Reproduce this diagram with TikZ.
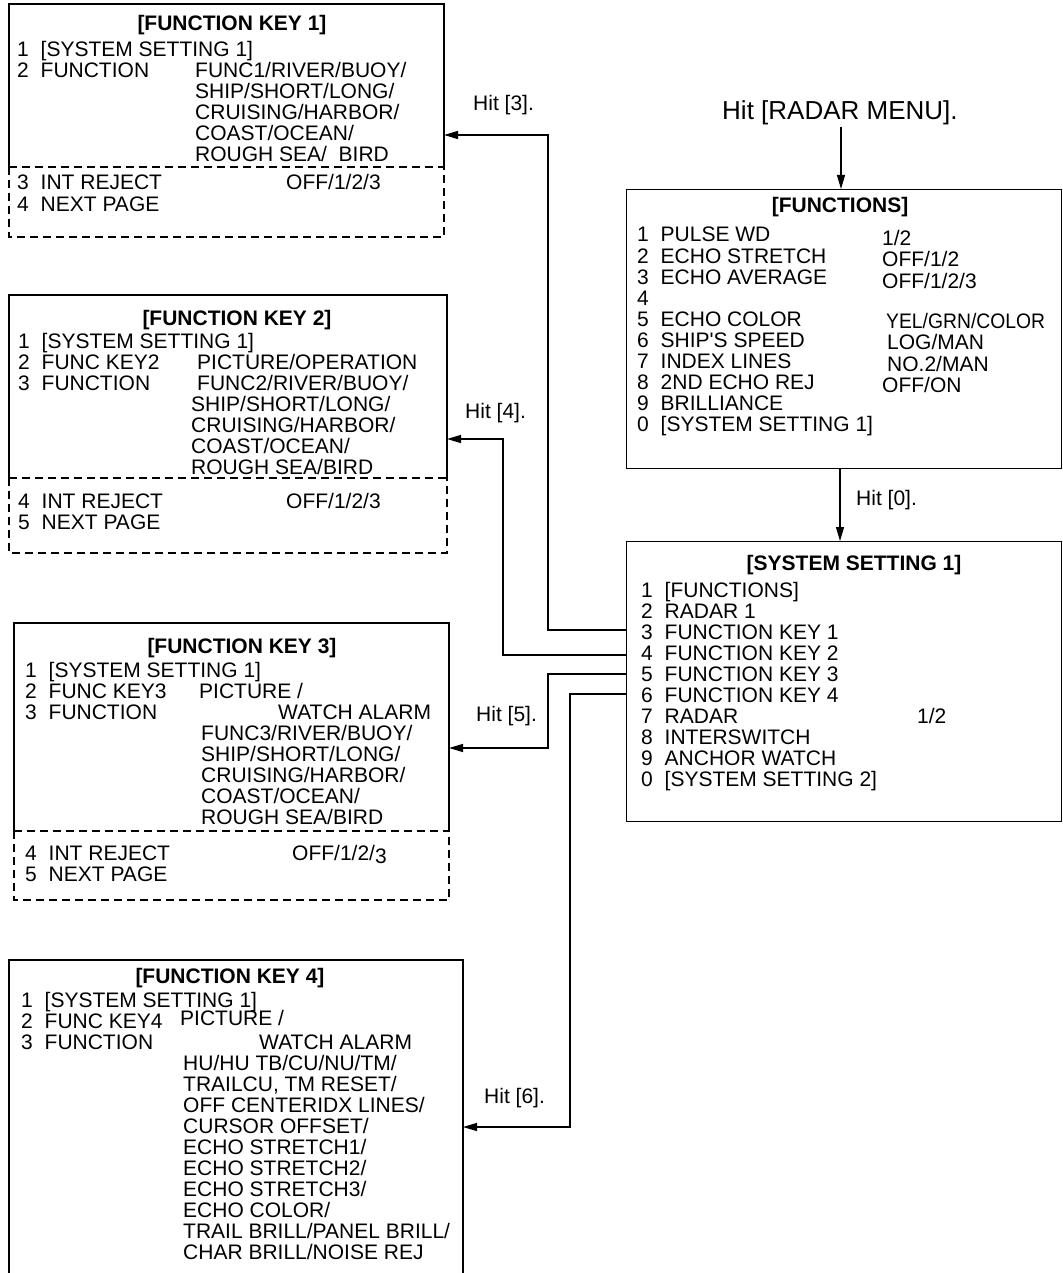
\documentclass[tikz,border=0pt]{standalone}
\usepackage{fontspec}
\setmainfont{Liberation Sans}
\usetikzlibrary{arrows.meta}
\newcommand\nm[2]{\makebox[23.5pt][l]{#1}#2}
\newcommand\colm[5]{\foreach \tx [count=\i] in {#5} {\node[lbl] (#1\i) at ({#2},{#3+#4*(\i-1)}) {\tx};}}
\begin{document}
\begin{tikzpicture}[x=1pt,y=-1pt,
  box/.style={line width=1.3pt},
  dsh/.style={line width=1.3pt, dash pattern=on 8pt off 5pt},
  arr/.style={line width=1.3pt, -{Triangle[length=14pt,width=8pt]}},
  lbl/.style={anchor=base west, inner sep=0pt, font=\fontsize{21}{21}\selectfont},
  ttl/.style={anchor=base, inner sep=0pt, font=\fontsize{21}{21}\selectfont\bfseries},
  frame/.style={draw, line width=1.3pt, inner sep=0pt, anchor=north west}]
\useasboundingbox[fill=white] (0,0) rectangle (1062,1273);

% ---------- FUNCTION KEY 1 ----------
\draw[box] (9,167) -- (9,4) -- (444,4) -- (444,167);
\draw[dsh] (9,167) -- (444,167);
\draw[dsh] (9,167) -- (9,237) -- (444,237) -- (444,167);
\node[ttl] (fk1t) at (232,31) {[FUNCTION KEY 1]};
\colm{fk1a}{17}{57}{21}{{\nm{1}{[SYSTEM SETTING 1]}},{\nm{2}{FUNCTION}}}
\colm{fk1b}{195}{78}{21}{FUNC1/RIVER/BUOY/,SHIP/SHORT/LONG/,CRUISING/HARBOR/,COAST/OCEAN/,{ROUGH SEA/\ \ BIRD}}
\colm{fk1c}{17}{190}{22}{{\nm{3}{INT REJECT}},{\nm{4}{NEXT PAGE}}}
\node[lbl] (fk1d) at (286,190) {OFF/1/2/3};
\node[lbl] (h3) at (473,111) {Hit [3].};

% ---------- FUNCTION KEY 2 ----------
\draw[box] (9,478) -- (9,295) -- (447,295) -- (447,478);
\draw[dsh] (9,478) -- (447,478);
\draw[dsh] (9,478) -- (9,553) -- (447,553) -- (447,478);
\node[ttl] (fk2t) at (237,325) {[FUNCTION KEY 2]};
\colm{fk2a}{18}{348}{21}{{\nm{1}{[SYSTEM SETTING 1]}},{\nm{2}{FUNC KEY2}},{\nm{3}{FUNCTION}}}
\node[lbl] (fk2p) at (197,369) {PICTURE/OPERATION};
\node[lbl] (fk2f) at (197,390) {FUNC2/RIVER/BUOY/};
\colm{fk2b}{191}{411}{21}{SHIP/SHORT/LONG/,CRUISING/HARBOR/,COAST/OCEAN/,ROUGH SEA/BIRD}
\colm{fk2c}{18}{508}{21}{{\nm{4}{INT REJECT}},{\nm{5}{NEXT PAGE}}}
\node[lbl] (fk2d) at (286,508) {OFF/1/2/3};
\node[lbl] (h4) at (465,418) {Hit [4].};

% ---------- FUNCTION KEY 3 ----------
\draw[box] (14,831) -- (14,623) -- (449,623) -- (449,831);
\draw[dsh] (14,831) -- (449,831);
\draw[dsh] (14,831) -- (14,900) -- (449,900) -- (449,831);
\node[ttl] (fk3t) at (242,653) {[FUNCTION KEY 3]};
\colm{fk3a}{25}{677}{21}{{\nm{1}{[SYSTEM SETTING 1]}},{\nm{2}{FUNC KEY3}},{\nm{3}{FUNCTION}}}
\node[lbl] (fk3p) at (199,698) {PICTURE /};
\node[lbl] (fk3w) at (278,719) {WATCH ALARM};
\colm{fk3b}{201}{740}{21}{FUNC3/RIVER/BUOY/,SHIP/SHORT/LONG/,CRUISING/HARBOR/,COAST/OCEAN/,ROUGH SEA/BIRD}
\colm{fk3c}{25}{860}{21}{{\nm{4}{INT REJECT}},{\nm{5}{NEXT PAGE}}}
\node[lbl] (fk3d) at (292,860) {OFF/1/2/\raisebox{-3pt}{3}};
\node[lbl] (h5) at (476,721) {Hit [5].};

% ---------- FUNCTION KEY 4 ----------
\draw[box] (9,1280) -- (9,960) -- (463,960) -- (463,1280);
\node[ttl] (fk4t) at (230,983) {[FUNCTION KEY 4]};
\colm{fk4a}{21}{1007}{21}{{\nm{1}{[SYSTEM SETTING 1]}},{\nm{2}{FUNC KEY4}},{\nm{3}{FUNCTION}}}
\node[lbl] (fk4p) at (180,1025) {PICTURE /};
\node[lbl] (fk4w) at (259,1049) {WATCH ALARM};
\colm{fk4b}{183}{1070}{21}{HU/HU TB/CU/NU/TM/,{TRAILCU, TM RESET/},OFF CENTERIDX LINES/,CURSOR OFFSET/,ECHO STRETCH1/,ECHO STRETCH2/,ECHO STRETCH3/,ECHO COLOR/,TRAIL BRILL/PANEL BRILL/,CHAR BRILL/NOISE REJ}
\node[lbl] (h6) at (484,1103) {Hit [6].};

% ---------- FUNCTIONS ----------
\node[lbl, font=\fontsize{26}{26}\selectfont] (rm) at (722,120) {Hit [RADAR MENU].};
\node[frame, minimum width=435pt, minimum height=279pt] (fn) at (626,189) {};
\node[ttl] (fnt) at (840,213) {[FUNCTIONS]};
\colm{fna}{637}{242}{21}{{\nm{1}{PULSE WD}},{\nm{2}{ECHO STRETCH}},{\nm{3}{ECHO AVERAGE}},{\nm{4}{}},{\nm{5}{ECHO COLOR}},{\nm{6}{SHIP\textquotesingle S SPEED}},{\nm{7}{INDEX LINES}},{\nm{8}{2ND ECHO REJ}},{\nm{9}{BRILLIANCE}},{\nm{0}{[SYSTEM SETTING 1]}}}
\node[lbl] (fnv1) at (882,245) {1/2};
\node[lbl] (fnv2) at (882,266) {OFF/1/2};
\node[lbl] (fnv3) at (882,288) {OFF/1/2/3};
\node[lbl] (fnv5) at (886,328) {\scalebox{0.92}[1]{YEL/GRN/COLOR}};
\node[lbl] (fnv6) at (887,349) {LOG/MAN};
\node[lbl] (fnv7) at (887,371) {NO.2/MAN};
\node[lbl] (fnv8) at (882,392) {OFF/ON};

% ---------- SYSTEM SETTING 1 ----------
\node[frame, minimum width=435pt, minimum height=280pt] (ss) at (626,541) {};
\node[ttl] (sst) at (854,570) {[SYSTEM SETTING 1]};
\colm{ssa}{641}{597}{21.1}{{\nm{1}{[FUNCTIONS]}},{\nm{2}{RADAR 1}},{\nm{3}{FUNCTION KEY 1}},{\nm{4}{FUNCTION KEY 2}},{\nm{5}{FUNCTION KEY 3}},{\nm{6}{FUNCTION KEY 4}},{\nm{7}{RADAR}},{\nm{8}{INTERSWITCH}},{\nm{9}{ANCHOR WATCH}},{\nm{0}{[SYSTEM SETTING 2]}}}
\node[lbl] (ssv) at (917,723) {1/2};
\node[lbl] (h0) at (856,505) {Hit [0].};

% ---------- connectors ----------
\coordinate (top) at (841,127);
\coordinate (f0) at (840,468);
\draw[arr] (top) -- (top |- fn.north);
\draw[arr] (f0) -- (f0 |- ss.north);

\coordinate (s3) at (626,630);
\coordinate (s4) at (626,655);
\coordinate (s5) at (626,674);
\coordinate (s6) at (626,694);
\coordinate (k1) at (444,135);
\coordinate (k2) at (447,439);
\coordinate (k3) at (449,748);
\coordinate (k4) at (463,1127);
\coordinate (v1) at (548,0);
\coordinate (v2) at (503,0);
\coordinate (v4) at (570,0);
\draw[arr] (s3) -| (v1 |- k1) -- (k1);
\draw[arr] (s4) -| (v2 |- k2) -- (k2);
\draw[arr] (s5) -| (v1 |- k3) -- (k3);
\draw[arr] (s6) -| (v4 |- k4) -- (k4);
\end{tikzpicture}
\end{document}
